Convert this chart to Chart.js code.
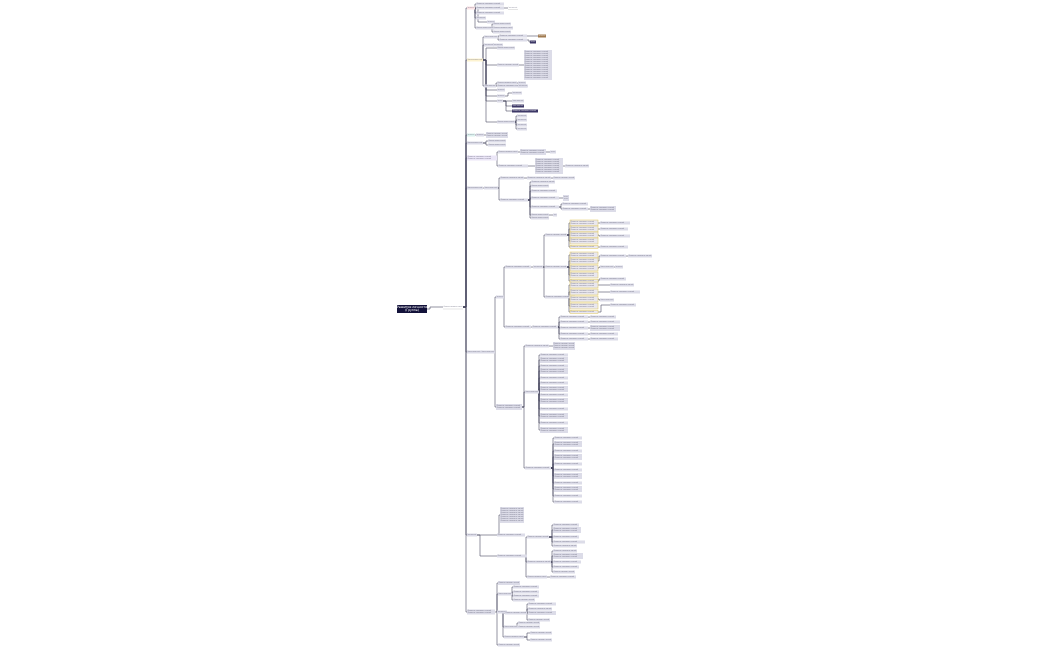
<!DOCTYPE html><html><head><meta charset="utf-8">
<script src="https://cdn.jsdelivr.net/npm/chart.js@4"></script>
<style>html,body{margin:0;background:#fff}#w{width:1050px;height:650px}</style></head><body><div id="w"><canvas id="c"></canvas></div>
<script>
// [id, parent, x(left), y(center), width, height, kind]
const rootNodes=[["root",null,397,309,30,8,"root"],["r1","root",443,307,20,4,"t"]];
const branchA=[["A","r1",467,8,8,3,"pink"],["A1","A",476,4,28,3],["A2","A",476,8,28,3],["A3","A",476,13,28,3],["A4","A2",508,8,10,3,"w"],["A5","A",476,18,10,3],["A6","A",487,22,8,3],["A7","A",476,28,18,3],["A8","A7",493,24,18,3],["A9","A7",493,28,20,3],["A10","A7",493,32,18,3]];
const branchC=[["C","r1",467,60,16,3,"yellow"],["C1","C",484,37,14,3],["C2","C1",499,36,28,3],["C3","C2",538,36,8,3,"brown"],["C4","C1",499,40,28,3],["C5","C4",530,42,6,3,"dark"],["C6","C",484,45,10,3],["C7","C6",493,45,10,3],["C8","C",497,48,18,3],["C9","C",497,65,22,3],["C10","C9",524,65,28,30],["C11","C",484,86,12,3],["C12","C11",497,83,20,3],["C13","C12",518,83,8,3],["C14","C11",497,86,30,3],["C15","C14",518,86,10,3],["C16","C",497,90,8,3],["C17","C",497,96,8,3],["C18","C17",512,93,10,3],["C19","C",497,101,6,3],["C20","C19",512,101,12,3],["C21","C19",512,106,12,3,"dark"],["C22","C19",512,111,26,3,"dark"],["C23","C",497,122,18,3],["C24","C23",517,116,10,3],["C25","C23",517,120,10,3],["C26","C23",517,125,10,3],["C27","C23",517,129,10,3]];
const branchD=[["D","r1",467,135,8,3,"teal"],["D1","D",476,135,8,3],["D2","D1",486,135,22,6],["E","r1",467,143,16,3],["E1","E",488,141,18,3],["E2","E",488,145,18,3],["F","r1",467,158,30,5,"purple"],["F1","F",498,152,20,3],["F2","F1",520,152,26,6],["F3","F2",550,152,6,3],["F4","F",498,166,30,3],["F5","F4",535,166,28,16],["F6","F5",565,166,24,3]];
const branchG=[["G","r1",467,188,16,3],["G1","G",484,188,14,3],["G2","G1",500,178,24,3],["G3","G2",527,178,24,3],["G4","G3",553,178,22,3],["G5","G1",500,200,28,3],["G6","G5",531,182,24,3],["G7","G5",531,186,18,3],["G8","G5",531,191,26,3],["G9","G5",531,198,28,3],["G10","G9",563,198,6,6],["G11","G5",531,207,28,3],["G12","G11",562,204,26,3],["G13","G11",562,209,26,3],["G14","G13",590,209,26,6],["G15","G5",531,215,18,3],["G16","G15",553,215,4,3],["G17","G5",531,218,18,3]];
const branchH=[["H","r1",467,352,14,3],["H1","H",481,352,14,3],["H2","H1",496,297,8,3],["H3","H2",505,267,26,3],["H4","H3",533,267,10,3],["H5","H4",545,235,22,3],["H6","H5",570,223,28,6,"y"],["H7","H5",570,229,28,6,"y"],["H8","H5",570,235,28,6,"y"],["H9","H5",570,241,28,6,"y"],["H10","H5",570,247,28,3,"y"],["H11","H6",600,223,30,3],["H12","H7",600,229,28,3],["H13","H8",600,236,30,3],["H14","H10",600,247,28,3],["H15","H4",545,267,22,3],["H16","H15",570,255,28,6,"y"],["H17","H15",570,261,28,6,"y"],["H18","H15",570,268,28,6,"y"],["H19","H15",570,275,28,6,"y"],["H20","H15",570,281,28,3,"y"],["H21","H17",600,256,26,3],["H22","H21",628,256,24,3],["H23","H18",600,267,14,3],["H24","H23",615,267,8,3],["H25","H20",600,279,26,3],["H26","H4",545,297,30,3],["H27","H26",570,285,28,6,"y"],["H28","H26",570,292,28,6,"y"],["H29","H26",570,299,28,6,"y"],["H30","H26",570,306,28,6,"y"],["H31","H26",570,312,28,3,"y"],["H32","H27",610,285,24,3],["H33","H28",610,292,30,3],["H34","H29",600,300,14,3],["H35","H31",610,305,26,3],["H36","H2",505,327,26,3],["H37","H36",532,327,26,3],["H38","H37",560,317,28,3],["H39","H37",560,322,28,3],["H40","H37",560,328,28,3],["H41","H37",560,334,28,3],["H42","H37",560,339,28,3],["H43","H38",590,317,26,3],["H44","H39",590,322,30,3],["H45","H40",590,328,30,6],["H46","H41",590,334,28,3],["H47","H42",590,339,28,3]];
const branchH2=[["K","H1",496,407,26,6],["K1","K",525,346,24,3],["K2","K1",553,346,22,8],["K3","K",525,392,14,3],["K4","K3",540,355,28,3],["K5","K3",540,360,28,6],["K6","K3",540,366,28,3],["K7","K3",540,371,28,6],["K8","K3",540,378,28,3],["K9","K3",540,383,28,3],["K10","K3",540,389,28,6],["K11","K3",540,395,28,3],["K12","K3",540,401,28,6],["K13","K3",540,409,28,3],["K14","K3",540,416,28,6],["K15","K3",540,423,28,3],["K16","K3",540,430,28,6],["K17","K",525,468,26,3],["K18","K17",554,438,28,3],["K19","K17",554,444,28,6],["K20","K17",554,451,28,3],["K21","K17",554,457,28,6],["K22","K17",554,464,28,3],["K23","K17",554,470,28,3],["K24","K17",554,476,28,6],["K25","K17",554,483,28,3],["K26","K17",554,489,28,6],["K27","K17",554,496,28,3],["K28","K17",554,502,28,3]];
const branchI=[["I","r1",467,535,10,3],["I1","I",497,535,28,3],["I0","I1",500,515,24,16],["I2","I",497,556,30,3],["I3","I2",527,537,22,3],["I4","I3",553,525,26,3],["I5","I3",553,530,28,6],["I6","I3",553,537,26,3],["I7","I3",553,542,32,3],["I8","I3",553,546,24,3],["I9","I2",527,562,24,3],["I10","I9",553,551,24,3],["I11","I9",553,556,30,6],["I12","I9",553,562,28,3],["I13","I9",553,567,26,3],["I14","I9",553,572,22,3],["I15","I2",527,577,20,3],["I16","I15",550,577,26,3]];
const branchJ=[["J","r1",467,612,28,5],["J1","J",497,612,10,3],["J2","J1",498,583,22,4],["J3","J1",498,594,14,3],["J4","J3",513,587,26,3],["J5","J3",513,592,26,3],["J6","J3",513,596,26,3],["J7","J3",513,600,22,3],["J8","J1",505,613,22,3],["J9","J8",528,604,28,3],["J10","J8",528,609,24,3],["J11","J8",528,613,28,4],["J12","J8",528,620,22,3],["J13","J1",504,627,14,3],["J14","J13",518,623,22,3],["J15","J13",518,627,22,3],["J16","J1",504,637,20,3],["J17","J16",530,633,22,3],["J18","J16",530,640,22,3],["J19","J1",498,645,22,3]];
const nodeLabels={root:"Развитие личности (Группа)"};
const defaultLabel="Развитие навыков и знаний";

const nodes=[...rootNodes,...branchA,...branchC,...branchD,...branchG,...branchH,...branchH2,...branchI,...branchJ];
const byId={};nodes.forEach(n=>byId[n[0]]=n);
const fills={root:"#13123a",pink:"#fbe3e6",yellow:"#fdf3d0",teal:"#dcf1ee",purple:"#ebe6f7",brown:"#a07a50",dark:"#3c3766",y:"#e9e7ee",w:"#ffffff",t:"#ffffff"};
const mindmap={id:"mindmap",afterDatasetsDraw(ch){
 const c=ch.ctx,X=ch.scales.x,Y=ch.scales.y;c.save();
 c.strokeStyle="#4a4a62";c.lineWidth=0.6;
 nodes.forEach(n=>{if(!n[1])return;const p=byId[n[1]];
  const px=X.getPixelForValue(p[2]+p[4]),py=Y.getPixelForValue(p[3]);
  const cx=X.getPixelForValue(n[2]),cy=Y.getPixelForValue(n[3]);
  const mx=Math.min(px+3,cx-1);
  c.beginPath();c.moveTo(px,py);c.lineTo(mx,py);c.lineTo(mx,cy);c.lineTo(cx,cy);c.stroke();});
 nodes.forEach(n=>{const x=X.getPixelForValue(n[2]),y=Y.getPixelForValue(n[3]);
  const w=X.getPixelForValue(n[2]+n[4])-x,h=n[5];const k=n[6]||"g";
  c.fillStyle=fills[k]||"#dcdce8";c.fillRect(x,y-h/2,w,h);
  if(k==="y"){c.strokeStyle="#e2c85a";c.lineWidth=0.5;c.strokeRect(x,y-h/2,w,h);}
  if(k==="t"||k==="w"){c.strokeStyle="#bbb";c.lineWidth=0.4;c.beginPath();c.moveTo(x,y+h/2);c.lineTo(x+w,y+h/2);c.stroke();}
  const lab=nodeLabels[n[0]]||defaultLabel;
  if(k==="root"){c.fillStyle="#fff";c.font="3px DejaVu Sans";c.textAlign="center";c.textBaseline="middle";
   c.fillText("Развитие личности",x+w/2,y-1.5);c.fillText("(Группа)",x+w/2,y+1.6);}
  else{c.fillStyle=(k==="dark"||k==="brown")?"#fff":"#55556a";c.font="1.6px DejaVu Sans";c.textAlign="left";c.textBaseline="middle";
   const lines=Math.max(1,Math.floor((h-0.6)/2));
   for(let i=0;i<lines;i++)c.fillText(lab,x+0.8,y-h/2+1.3+i*2,w-1.6);}
 });c.restore();}};
new Chart(document.getElementById("c"),{type:"scatter",
 data:{datasets:[{data:nodes.map(n=>({x:n[2],y:n[3]})),pointRadius:0,showLine:false}]},
 options:{responsive:true,maintainAspectRatio:false,animation:false,layout:{padding:0},
  plugins:{legend:{display:false},tooltip:{enabled:false}},
  scales:{x:{type:"linear",min:0,max:1050,display:false},y:{type:"linear",min:0,max:650,reverse:true,display:false}}},
 plugins:[mindmap]});
</script></body></html>
